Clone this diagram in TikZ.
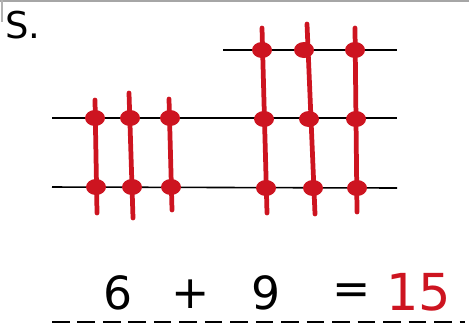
\documentclass[tikz,border=0pt]{standalone}
\usepackage{fontspec}
\setmainfont{DejaVu Sans}
\definecolor{beadred}{RGB}{205,20,32}
\begin{document}
\begin{tikzpicture}[x=0.02cm, y=-0.02cm, every node/.style={font=\fontsize{26}{26}\selectfont, inner sep=0pt},
	wire/.style={black, line width=0.9pt},
	rod/.style={beadred, line width=2.7pt, line cap=round},
	bead/.style={fill=beadred}]
	\useasboundingbox (0,0) rectangle (469,326);
	\draw[gray!70, line width=1.2pt] (0,1) -- (469,1);
	\draw[gray!60, line width=0.8pt] (2,0) -- (2,22);
	\node[anchor=north west, font=\fontsize{21}{21}\selectfont] (label) at (5,11) {S.};
	% wires
	\draw[wire] (223,50) -- (397,50);
	\draw[wire] (52,118) -- (397,118);
	\draw[wire] (52,187) -- (397,188);
	% rods
	\foreach \xa/\ya/\xb/\yb in {95/100/97/213, 129/93/133/218, 169/99/172/210,
		262/28/267/213, 307/24/315/214, 355/28/357/212}
		\draw[rod] (\xa,\ya) -- (\xb,\yb);
	% beads
	\foreach \bx/\by in {95/118, 130/118, 170/118, 96/187, 132/187, 171/187,
		262/50, 304/50, 355/50, 264/119, 309/119, 356/119, 266/188, 313/188, 357/188}
		\fill[bead] (\bx,\by) ellipse (10 and 8);
	% number sentence
	\node (six) at (118,293) {6};
	\node (plus) at (191,294) {+};
	\node (nine) at (266,293) {9};
	\node (equals) at (352,294) {=};
	\node[beadred, font=\fontsize{29}{29}\selectfont] (sum) at (419,292) {15};
	\draw[wire, dash pattern=on 10pt off 4.5pt] (52,322) -- (465,322);
\end{tikzpicture}
\end{document}
